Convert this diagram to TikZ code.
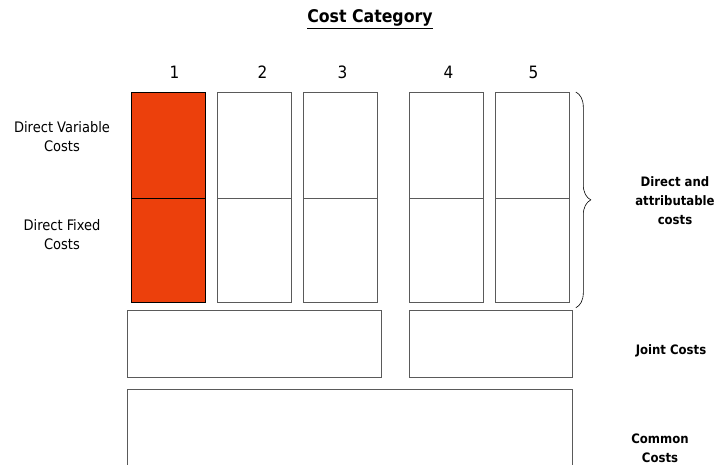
\documentclass[tikz,border=0pt]{standalone}
\usepackage{fontspec}
\setmainfont{DejaVu Sans Condensed}
\usetikzlibrary{positioning,decorations.pathreplacing}
\definecolor{costred}{RGB}{236,64,12}
\definecolor{boxgray}{RGB}{90,90,90}

\begin{document}
\begin{tikzpicture}[x=1pt, y=-1pt,
    cell/.style={draw=boxgray, line width=0.8pt, anchor=north west, inner sep=0pt,
                 minimum width=74pt},
    topcell/.style={cell, minimum height=106pt},
    botcell/.style={cell, minimum height=104pt},
    redcell/.style={fill=costred, draw=black},
    wide/.style={draw=boxgray, line width=0.8pt, anchor=north west, inner sep=0pt},
    num/.style={font=\fontsize{17}{20}\selectfont},
    sidelabel/.style={align=center, font=\fontsize{14.5}{19}\selectfont},
    rightlabel/.style={align=center, font=\bfseries\fontsize{13}{19}\selectfont}]
  \useasboundingbox (0,0) rectangle (719,465);

  \node[font=\bfseries\fontsize{17.5}{20}\selectfont] (title) at (370,19) {\underline{Cost Category}};

  % cost category columns
  \node[topcell, redcell] (c1top) at (131,92) {};
  \node[botcell, redcell] (c1bot) at (131,198) {};
  \node[topcell] (c2top) at (217,92) {};
  \node[botcell] (c2bot) at (217,198) {};
  \node[topcell] (c3top) at (303,92) {};
  \node[botcell] (c3bot) at (303,198) {};
  \node[topcell] (c4top) at (409,92) {};
  \node[botcell] (c4bot) at (409,198) {};
  \node[topcell] (c5top) at (495,92) {};
  \node[botcell] (c5bot) at (495,198) {};

  \node[num] (n1) [above=10pt of c1top, xshift=6pt] {1};
  \node[num] (n2) [above=10pt of c2top, xshift=8pt] {2};
  \node[num] (n3) [above=10pt of c3top, xshift=2pt] {3};
  \node[num] (n4) [above=10pt of c4top, xshift=2pt] {4};
  \node[num] (n5) [above=10pt of c5top, xshift=1pt] {5};

  % joint and common
  \node[wide, minimum width=254pt, minimum height=67pt] (joint1) at (127,310) {};
  \node[wide, minimum width=163pt, minimum height=67pt] (joint2) at (409,310) {};
  \node[wide, minimum width=445pt, minimum height=80pt] (common) at (127,389) {};

  \node[sidelabel] (dvc) at (62,137) {Direct Variable\\Costs};
  \node[sidelabel] (dfc) at (62,235) {Direct Fixed\\Costs};

  \draw[decorate, decoration={brace, amplitude=15pt}, line width=0.6pt]
    ([xshift=6pt]c5top.north east) -- ([xshift=6pt,yshift=-5pt]c5bot.south east);

  \node[rightlabel] (dac) at (675,201) {Direct and\\attributable\\costs};
  \node[rightlabel] (jc) at (671,351) {Joint Costs};
  \node[rightlabel] (cc) at (660,448) {Common\\Costs};
\end{tikzpicture}
\end{document}
